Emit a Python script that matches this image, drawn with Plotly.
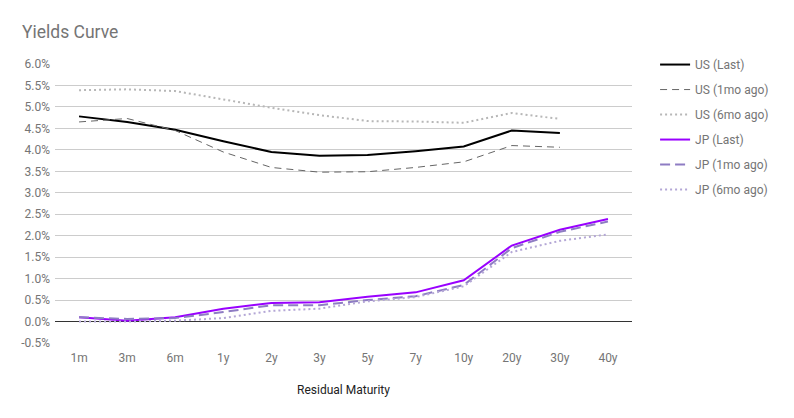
import plotly.graph_objects as go

maturities = ["1m", "3m", "6m", "1y", "2y", "3y", "5y", "7y", "10y", "20y", "30y", "40y"]

us_last = [4.78, 4.65, 4.47, 4.20, 3.95, 3.86, 3.88, 3.97, 4.08, 4.45, 4.39, None]
us_1mo = [4.65, 4.73, 4.45, 3.95, 3.59, 3.48, 3.49, 3.59, 3.72, 4.10, 4.06, None]
us_6mo = [5.39, 5.41, 5.37, 5.17, 4.98, 4.81, 4.67, 4.66, 4.63, 4.86, 4.72, None]
jp_last = [0.10, 0.02, 0.10, 0.30, 0.43, 0.45, 0.58, 0.68, 0.96, 1.77, 2.14, 2.39]
jp_1mo = [0.10, 0.06, 0.08, 0.22, 0.38, 0.38, 0.50, 0.59, 0.85, 1.71, 2.09, 2.33]
jp_6mo = [0.00, 0.00, 0.02, 0.08, 0.25, 0.30, 0.47, 0.57, 0.82, 1.62, 1.88, 2.03]

ytick_vals = [-0.5, 0.0, 0.5, 1.0, 1.5, 2.0, 2.5, 3.0, 3.5, 4.0, 4.5, 5.0, 5.5, 6.0]
ytick_text = ["-0.5%", "0.0%", "0.5%", "1.0%", "1.5%", "2.0%", "2.5%", "3.0%", "3.5%",
              "4.0%", "4.5%", "5.0%", "5.5%", "6.0%"]

series = [
    ("US (Last)", us_last, "#000000", 2, "solid"),
    ("US (1mo ago)", us_1mo, "#666666", 1, "7px,5px"),
    ("US (6mo ago)", us_6mo, "#b7b7b7", 2, "2px,3px"),
    ("JP (Last)", jp_last, "#9900ff", 2, "solid"),
    ("JP (1mo ago)", jp_1mo, "#8e7cc3", 2, "10px,5px"),
    ("JP (6mo ago)", jp_6mo, "#b4a7d6", 2, "2px,3px"),
]

fig = go.Figure()
for i, (name, vals, color, w, dash) in enumerate(series):
    fig.add_trace(go.Scatter(
        x=maturities, y=vals, name=name, mode="lines",
        line=dict(color=color, width=w, dash=dash),
        legendgroup=f"g{i}", connectgaps=False,
    ))

W, H = 786, 410
font_family = "Roboto, Arial, sans-serif"
fig.update_layout(
    width=W, height=H,
    margin=dict(l=47, r=162, t=56, b=75),
    paper_bgcolor="white", plot_bgcolor="white",
    font=dict(family=font_family, color="#757575", size=12),
    title=dict(text="Yields Curve", x=14/W, xanchor="left", y=1 - 24/H, yanchor="middle",
               font=dict(size=17.5, color="#757575", family=font_family)),
    legend=dict(x=1.04, xanchor="left", y=1.05, yanchor="top",
                tracegroupgap=6, traceorder="grouped",
                font=dict(size=12, color="#757575")),
    xaxis=dict(type="category", range=[-0.5, 11.5], showgrid=False, zeroline=False,
               showline=False, ticks="", ticklabelstandoff=6,
               tickfont=dict(size=12, color="#757575"),
               title=dict(text="Residual Maturity", font=dict(size=12, color="#222222"), standoff=21)),
    yaxis=dict(range=[-0.5, 6.0], tickvals=ytick_vals, ticktext=ytick_text,
               showgrid=True, gridcolor="#cccccc", gridwidth=1,
               zeroline=True, zerolinecolor="#333333", zerolinewidth=1,
               showline=False, ticks="", ticklabelstandoff=4,
               tickfont=dict(size=12, color="#757575")),
)

fig.write_html("out.html")
